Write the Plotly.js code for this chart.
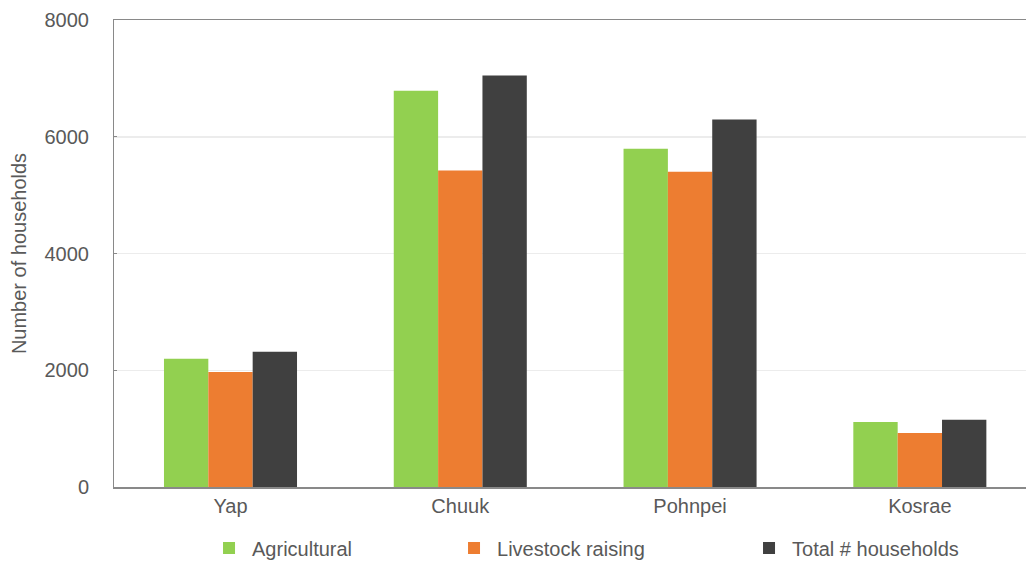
<!DOCTYPE html>
<html>
<head>
<meta charset="utf-8">
<script src="https://cdn.plot.ly/plotly-3.0.1.min.js"></script>
<style>html,body{margin:0;padding:0;background:#fff;}#chart{width:1026px;height:561px;}</style>
</head>
<body>
<div id="chart"></div>
<script>
var categories = ["Yap", "Chuuk", "Pohnpei", "Kosrae"];
var seriesNames = ["Agricultural", "Livestock raising", "Total # households"];
var agricultural = [2195, 6790, 5795, 1115];
var livestock = [1970, 5420, 5400, 925];
var totalHouseholds = [2315, 7050, 6295, 1150];
var yTickVals = [0, 2000, 4000, 6000, 8000];
var yTickText = ["0", "2000", "4000", "6000", "8000"];

var colors = ["#92d050", "#ed7d31", "#404040"];
var legendWidths = [194, 244, 175];
var values = [agricultural, livestock, totalHouseholds];

var traces = values.map(function (v, i) {
  return {
    type: "bar",
    name: seriesNames[i],
    x: categories,
    y: v,
    marker: { color: colors[i], line: { width: 0 } },
    legendwidth: legendWidths[i],
    hoverinfo: "x+y+name"
  };
});

var textColor = "#595959";
var fontFamily = "Liberation Sans, Arial, sans-serif";

var layout = {
  width: 1026,
  height: 561,
  margin: { l: 114, r: 0, t: 20, b: 74, autoexpand: false },
  paper_bgcolor: "#ffffff",
  plot_bgcolor: "#ffffff",
  font: { family: fontFamily, size: 20, color: textColor },
  barmode: "group",
  bargap: 0.421,
  bargroupgap: 0,
  showlegend: true,
  legend: {
    orientation: "h",
    x: 0.1009,
    xanchor: "left",
    y: -0.1306,
    yanchor: "middle",
    itemwidth: 36,
    font: { family: fontFamily, size: 20, color: textColor },
    bgcolor: "rgba(0,0,0,0)",
    traceorder: "normal"
  },
  xaxis: {
    type: "category",
    range: [-0.507, 3.462],
    showline: true,
    linecolor: "#898989",
    linewidth: 1.5,
    mirror: true,
    ticks: "",
    showgrid: false,
    tickfont: { family: fontFamily, size: 20, color: textColor },
    automargin: false
  },
  yaxis: {
    range: [0, 8000],
    tickvals: yTickVals,
    ticktext: yTickText,
    showline: true,
    linecolor: "#898989",
    linewidth: 1,
    ticks: "inside",
    ticklen: 3,
    tickcolor: "#898989",
    showgrid: true,
    gridcolor: "#ececec",
    gridwidth: 1.5,
    zeroline: false,
    ticklabelstandoff: 20,
    tickfont: { family: fontFamily, size: 20, color: textColor },
    title: { text: "Number of households", standoff: 12, font: { family: fontFamily, size: 20, color: textColor } },
    automargin: false
  }
};

Plotly.newPlot("chart", traces, layout, { displayModeBar: false, staticPlot: true });
</script>
</body>
</html>
